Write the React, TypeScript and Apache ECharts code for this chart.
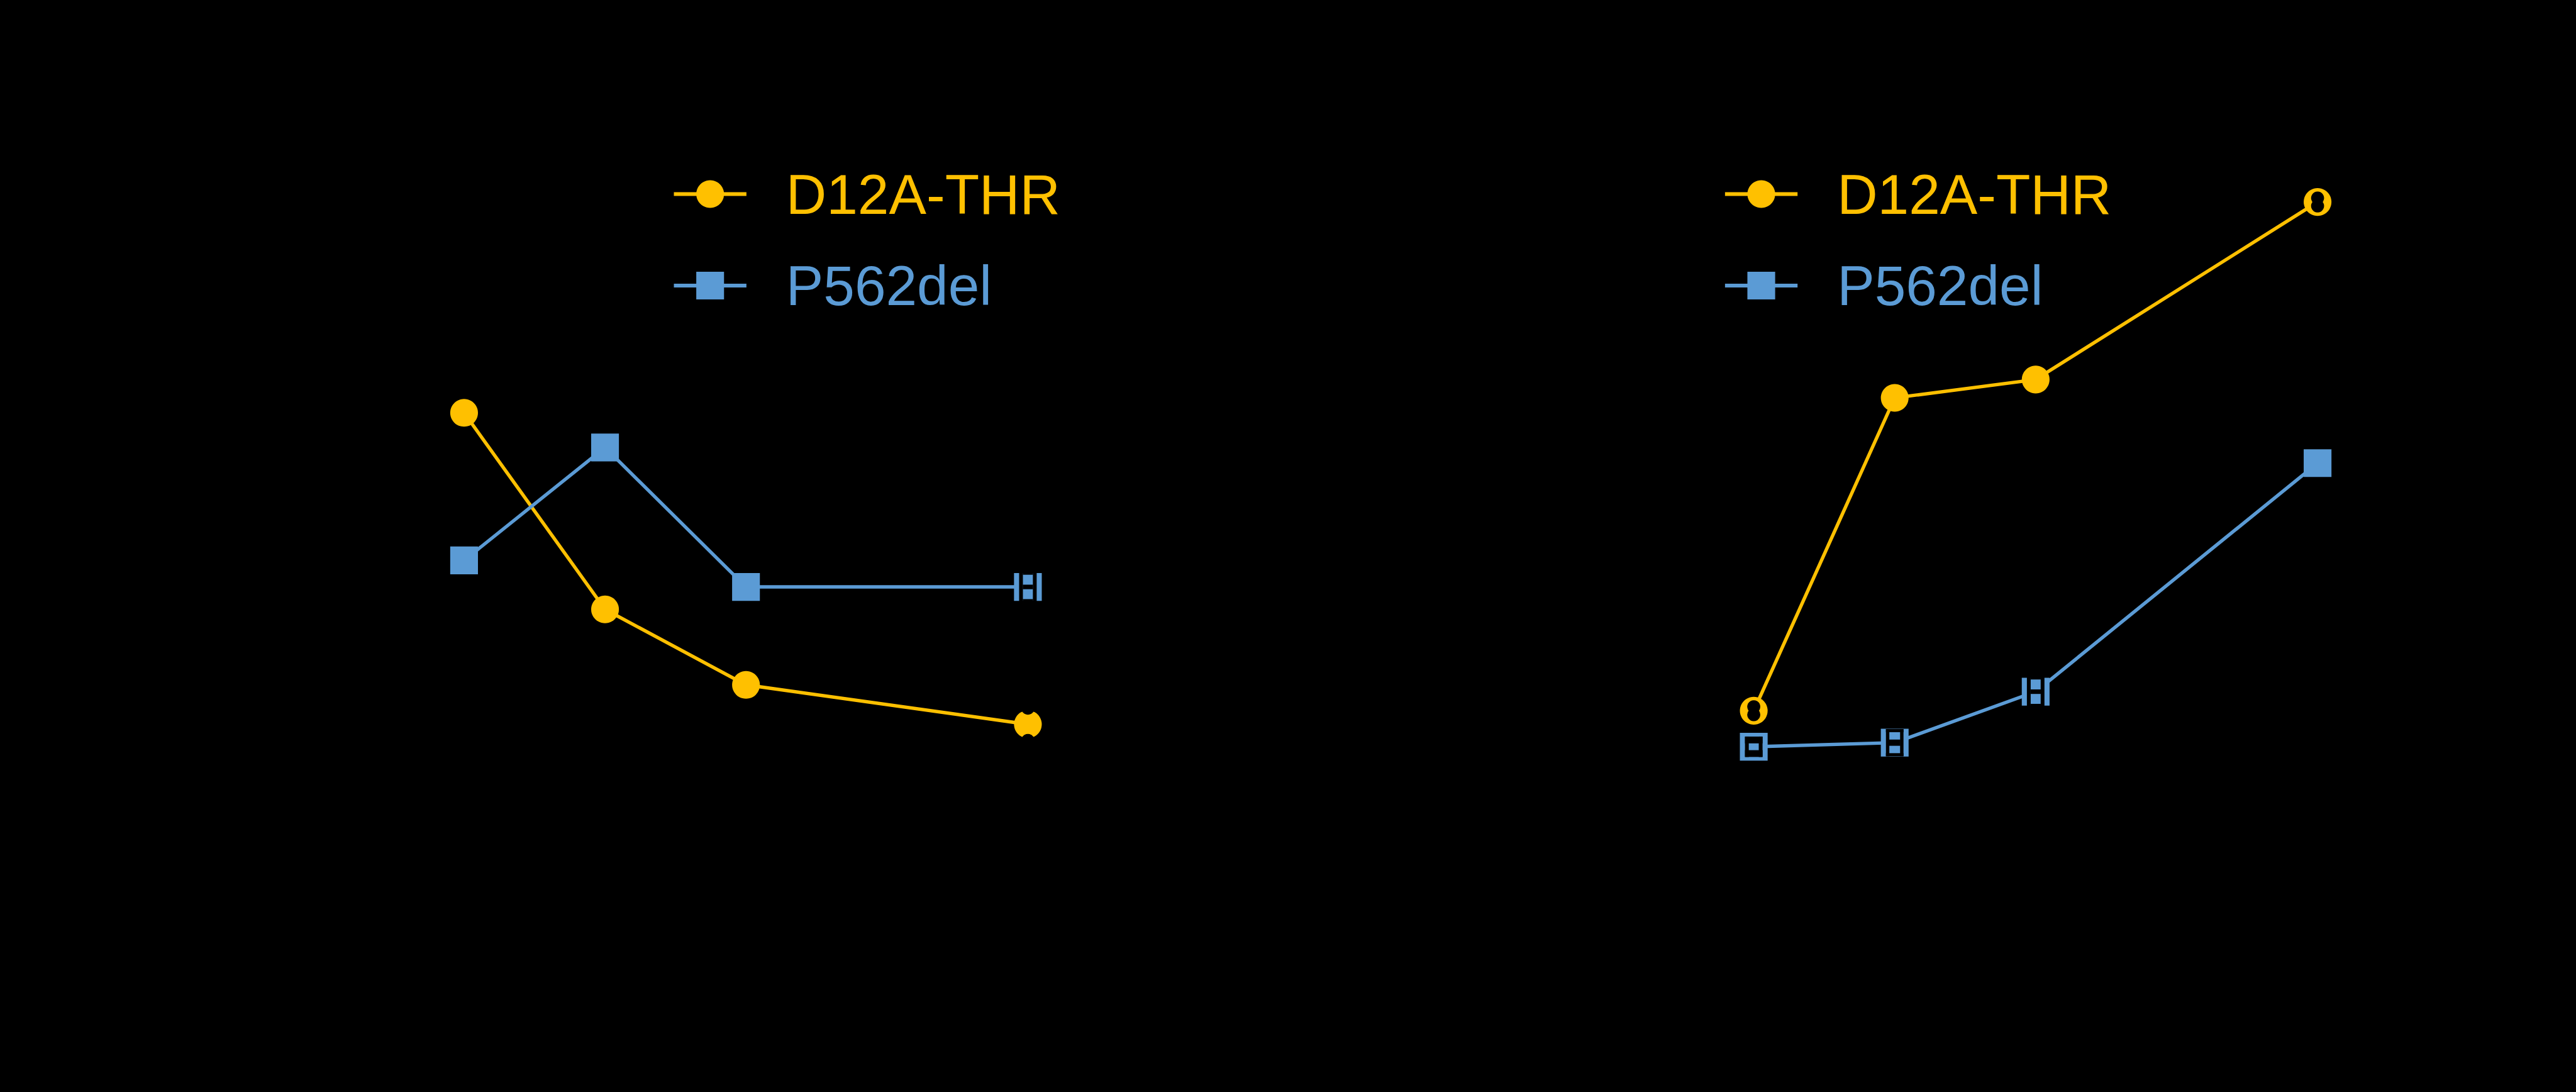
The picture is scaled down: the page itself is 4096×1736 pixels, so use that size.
import React, { useEffect, useRef } from "react";
import * as echarts from "echarts";

const timePoints = [0, 1, 2, 4];
const seriesNames = ["D12A-THR", "P562del"];
const leftD12A = [64.3, 35.4, 24.3, 18.5];
const leftP562 = [42.6, 59.2, 38.7, 38.7];
const rightD12A = [20.5, 66.5, 69.2, 95.3];
const rightP562 = [15.2, 15.8, 23.3, 56.9];

// black marks drawn over some points in the original: [series values, point index, kind]
const leftOverlays: [number[], number, string][] = [
  [leftD12A, 3, "notch"],
  [leftP562, 3, "H"],
];
const rightOverlays: [number[], number, string][] = [
  [rightD12A, 0, "peanut"],
  [rightD12A, 3, "peanut"],
  [rightP562, 0, "ring"],
  [rightP562, 1, "box"],
  [rightP562, 2, "H"],
];

const YELLOW = "#FFC000";
const BLUE = "#5B9BD5";
const S = 0.901;

function pairs(vals: number[]) {
  return vals.map((v, i) => [timePoints[i], v]);
}

const KINDS = ["notch", "H", "peanut", "ring", "box"];

function overlayData(list: [number[], number, string][]) {
  return list.map(([vals, i, kind]) => [timePoints[i], vals[i], KINDS.indexOf(kind)]);
}

function renderOverlay(params: any, api: any) {
  const p = api.coord([api.value(0), api.value(1)]);
  const kind = KINDS[api.value(2)];
  const cx = p[0];
  const cy = p[1];
  const k = S;
  const black = { fill: "#000" };
  const rect = (x: number, y: number, w: number, h: number) => ({
    type: "rect",
    shape: { x: cx + x * k, y: cy + y * k, width: w * k, height: h * k },
    style: black,
  });
  const circ = (x: number, y: number, r: number) => ({
    type: "circle",
    shape: { cx: cx + x * k, cy: cy + y * k, r: r * k },
    style: black,
  });
  let children: any[] = [];
  if (kind === "notch") {
    children = [circ(0, -29, 12), circ(0, 29, 12)];
  } else if (kind === "peanut") {
    children = [circ(0, -7, 11.5), circ(0, 7, 11.5)];
  } else if (kind === "H") {
    children = [rect(-15.5, -26, 6.7, 52), rect(8.8, -26, 6.7, 52), rect(-9, -4, 18, 8), rect(-9, -26, 18, 4.5), rect(-9, 21.5, 18, 4.5)];
  } else if (kind === "ring") {
    children = [rect(-15.5, -18, 31, 12), rect(-15.5, 6, 31, 12), rect(-15.5, -18, 6.7, 36), rect(8.8, -18, 6.7, 36)];
  } else if (kind === "box") {
    children = [rect(-15.5, -24, 31, 5.5), rect(-15.5, 18.5, 31, 5.5), rect(-15.5, -24, 6, 48), rect(9.5, -24, 6, 48), rect(-10, -5.5, 20, 11)];
  }
  return { type: "group", children };
}

export default function App() {
  const ref = useRef<HTMLDivElement>(null);
  useEffect(() => {
    document.body.style.margin = "0";
    document.body.style.background = "#000";
    const chart = echarts.init(ref.current!, null, { renderer: "svg" });
    const gridTop = 300 * S;
    const gridH = 1200 * S;
    const gridW = 995 * S;
    const grids = [
      { left: 819 * S, top: gridTop, width: gridW, height: gridH },
      { left: 3095 * S, top: gridTop, width: gridW, height: gridH },
    ];
    const axisHidden = {
      axisLine: { show: false },
      axisTick: { show: false },
      axisLabel: { show: false },
      splitLine: { show: false },
    };
    const mkSeries = (name: string, vals: number[], idx: number, color: string, symbol: string) => ({
      name,
      type: "line",
      xAxisIndex: idx,
      yAxisIndex: idx,
      data: pairs(vals),
      symbol,
      symbolSize: 49 * S,
      clip: false,
      lineStyle: { color, width: 6 * S },
      itemStyle: { color },
    });
    const legendCommon = {
      orient: "vertical",
      padding: 0,
      itemWidth: 128 * S,
      itemHeight: (49 * S) / 0.8,
      itemGap: 56.5,
      textStyle: { fontFamily: "Liberation Sans", fontSize: 99 * S, padding: [0, 0, 0, 58] },
      lineStyle: { width: 6.5 * S },
      data: [
        { name: seriesNames[0], textStyle: { color: YELLOW } },
        { name: seriesNames[1], textStyle: { color: BLUE } },
      ],
    };
    chart.setOption({
      animation: false,
      backgroundColor: "#000",
      grid: grids,
      xAxis: [0, 1].map((i) => ({ type: "value", gridIndex: i, min: 0, max: 4, ...axisHidden })),
      yAxis: [0, 1].map((i) => ({ type: "value", gridIndex: i, min: 0, max: 100, ...axisHidden })),
      legend: [
        { ...legendCommon, left: 1186 * S, top: 264 },
        { ...legendCommon, left: 3041 * S, top: 264 },
      ],
      series: [
        mkSeries(seriesNames[0], leftD12A, 0, YELLOW, "circle"),
        mkSeries(seriesNames[1], leftP562, 0, BLUE, "rect"),
        mkSeries(seriesNames[0], rightD12A, 1, YELLOW, "circle"),
        mkSeries(seriesNames[1], rightP562, 1, BLUE, "rect"),
        {
          type: "custom",
          xAxisIndex: 0,
          yAxisIndex: 0,
          z: 5,
          clip: false,
          silent: true,
          data: overlayData(leftOverlays),
          renderItem: renderOverlay,
        },
        {
          type: "custom",
          xAxisIndex: 1,
          yAxisIndex: 1,
          z: 5,
          clip: false,
          silent: true,
          data: overlayData(rightOverlays),
          renderItem: renderOverlay,
        },
      ],
    });
    return () => chart.dispose();
  }, []);
  return (
    <div
      ref={ref}
      style={{ position: "fixed", left: 0, top: 0, width: 4096, height: 1736, background: "#000" }}
    />
  );
}
